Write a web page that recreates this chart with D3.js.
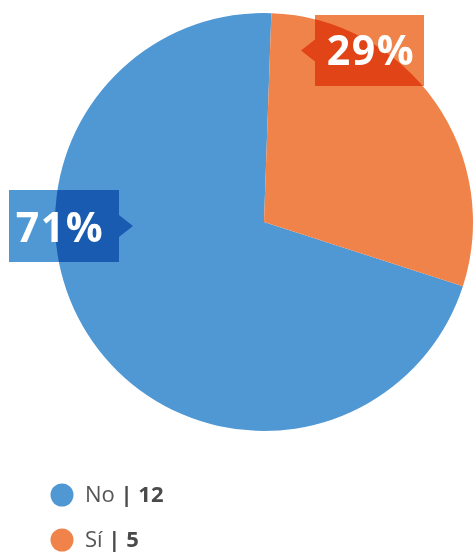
<!DOCTYPE html>
<html><head><meta charset="utf-8">
<script src="https://cdn.jsdelivr.net/npm/d3@7/dist/d3.min.js"></script>
<style>
html,body{margin:0;padding:0;background:#fff;}
svg{display:block;font-family:"Open Sans","Noto Sans",sans-serif;}
</style></head>
<body>
<script>
const categories = ["No", "Sí"];
const values = [12, 5];
const percentLabels = ["71%", "29%"];
const colors = ["#5098d4", "#f0834a"];

const W = 474, H = 553;
const cx = 264, cy = 222, R = 209;
const startDeg = 107.9;

const svg = d3.select("body").append("svg").attr("width", W).attr("height", H);

const pie = d3.pie().sort(null).value(d => d)
  .startAngle(startDeg * Math.PI / 180)
  .endAngle(startDeg * Math.PI / 180 + 2 * Math.PI);
const arcs = pie(values);
const arc = d3.arc().innerRadius(0).outerRadius(R);

const g = svg.append("g").attr("transform", `translate(${cx},${cy})`);
g.selectAll("path.slice").data(arcs).enter().append("path")
  .attr("class", "slice")
  .attr("d", arc)
  .attr("fill", (d, i) => colors[i]);

// label callouts (layout config: box position relative to pie centre, arrow side)
const callouts = [
  {i: 0, x: -255, y: -32, w: 110, h: 72, side: "right", tx: -204, ty: 20},
  {i: 1, x: 51, y: -207, w: 109, h: 71, side: "left", tx: 107, ty: -157}
];
const aw = 14, ah = 11;
callouts.forEach(c => {
  const x0 = c.x, y0 = c.y, x1 = c.x + c.w, y1 = c.y + c.h, ym = c.y + c.h / 2;
  let pts;
  if (c.side === "right") {
    pts = [[x0,y0],[x1,y0],[x1,ym-ah],[x1+aw,ym],[x1,ym+ah],[x1,y1],[x0,y1]];
  } else {
    pts = [[x0,y0],[x1,y0],[x1,y1],[x0,y1],[x0,ym+ah],[x0-aw,ym],[x0,ym-ah]];
  }
  g.append("path")
    .attr("d", d3.line()(pts) + "Z")
    .attr("fill", colors[c.i])
    .style("mix-blend-mode", "multiply");
  g.append("text")
    .attr("x", c.tx).attr("y", c.ty)
    .attr("text-anchor", "middle")
    .attr("fill", "#fff")
    .attr("font-weight", 700)
    .attr("font-size", 41)
    .attr("letter-spacing", 1.5)
    .text(percentLabels[c.i]);
});

// legend
const legend = svg.append("g").attr("transform", "translate(62,495)");
const items = legend.selectAll("g").data(categories).enter().append("g")
  .attr("transform", (d, i) => `translate(0,${i * 45})`);
items.append("circle").attr("r", 11.5).attr("fill", (d, i) => colors[i]);
const t = items.append("text").attr("x", 23).attr("y", 7)
  .attr("font-size", 22).attr("fill", "#555");
t.append("tspan").text(d => d + " ");
t.append("tspan").attr("font-weight", 700).attr("fill", "#4a4a4a")
  .text((d, i) => "| " + values[i]);
</script>
</body></html>
